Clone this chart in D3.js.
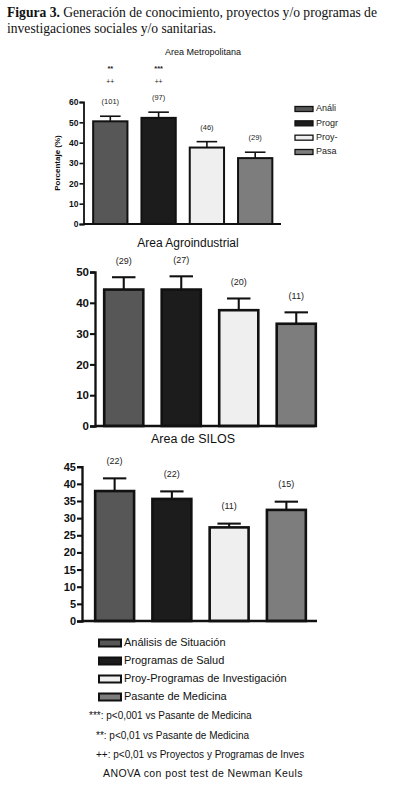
<!DOCTYPE html>
<html><head><meta charset="utf-8">
<script src="https://cdn.jsdelivr.net/npm/d3@7"></script>
<style>
html,body{margin:0;padding:0;background:#fff;}
svg{display:block;}
</style></head>
<body>
<script>
const categories = ["Análisis de Situación","Programas de Salud","Proy-Programas de Investigación","Pasante de Medicina"];
const legendShort = ["Análi","Progr","Proy-","Pasa"];
const barColors = ["#575757","#1c1c1c","#efefef","#7d7d7d"];

const metroValues = [50.5, 52.2, 37.6, 32.4];
const metroSem    = [2.5, 2.8, 2.9, 2.9];
const metroN      = ["(101)","(97)","(46)","(29)"];
const metroStars  = ["**","***","",""];
const metroPlus   = ["++","++","",""];
const metroTicks  = [0,10,20,30,40,50,60];

const agroValues = [44.3, 44.3, 37.6, 33.2];
const agroSem    = [4.0, 4.3, 3.8, 3.7];
const agroN      = ["(29)","(27)","(20)","(11)"];
const agroTicks  = [0,10,20,30,40,50];

const silosValues = [37.9, 35.6, 27.3, 32.4];
const silosSem    = [3.7, 2.2, 1.1, 2.4];
const silosN      = ["(22)","(22)","(11)","(15)"];
const silosTicks  = [0,5,10,15,20,25,30,35,40,45];

const notes = ["***: p<0,001 vs Pasante de Medicina","**: p<0,01 vs Pasante de Medicina","++: p<0,01 vs Proyectos y Programas de Inves","ANOVA con post test de Newman Keuls"];

const W = 395, H = 791;
const svg = d3.select("body").append("svg").attr("width", W).attr("height", H);
const FONT = "Liberation Sans, Arial, sans-serif";

// Header
const hdr = svg.append("text").attr("x", 7).attr("y", 17)
  .attr("font-family", "Liberation Serif, Times New Roman, serif").attr("font-size", 13.6).attr("fill", "#111");
hdr.append("tspan").attr("font-weight", "bold").text("Figura 3.");
hdr.append("tspan").text(" Generación de conocimiento, proyectos y/o programas de");
svg.append("text").attr("x", 7).attr("y", 33)
  .attr("font-family", "Liberation Serif, Times New Roman, serif").attr("font-size", 13.6).attr("fill", "#111")
  .text("investigaciones sociales y/o sanitarias.");

function panel(cfg) {
  const g = svg.append("g");
  const x = d3.scaleBand().domain(categories).range(cfg.xr).paddingInner(cfg.pi).paddingOuter(cfg.po);
  const y = d3.scaleLinear().domain(cfg.domain).range(cfg.yr);
  const data = categories.map((c, i) => ({c, v: cfg.values[i], e: cfg.sem[i], n: cfg.n[i], col: barColors[i], i}));
  const capW = x.bandwidth() * 0.6;
  g.selectAll(".err").data(data).join("line")
    .attr("x1", d => x(d.c) + x.bandwidth()/2).attr("x2", d => x(d.c) + x.bandwidth()/2)
    .attr("y1", d => y(d.v)).attr("y2", d => y(d.v + d.e))
    .attr("stroke", "#111").attr("stroke-width", cfg.sw * 0.8);
  g.selectAll(".cap").data(data).join("line")
    .attr("x1", d => x(d.c) + x.bandwidth()/2 - capW/2).attr("x2", d => x(d.c) + x.bandwidth()/2 + capW/2)
    .attr("y1", d => y(d.v + d.e)).attr("y2", d => y(d.v + d.e))
    .attr("stroke", "#111").attr("stroke-width", cfg.sw * 0.8);
  g.selectAll(".bar").data(data).join("rect")
    .attr("x", d => x(d.c)).attr("width", x.bandwidth())
    .attr("y", d => y(d.v)).attr("height", d => y(0) - y(d.v))
    .attr("fill", d => d.col).attr("stroke", "#111").attr("stroke-width", cfg.sw);
  g.selectAll(".nl").data(data).join("text")
    .attr("x", d => x(d.c) + x.bandwidth()/2).attr("y", d => y(d.v + d.e) - cfg.nOff)
    .attr("text-anchor", "middle").attr("dominant-baseline", "middle")
    .attr("font-family", FONT).attr("font-size", cfg.nFs).attr("fill", "#222").text(d => d.n);
  if (cfg.stars) {
    g.selectAll(".st").data(data).join("text")
      .attr("x", d => x(d.c) + x.bandwidth()/2).attr("y", cfg.starY)
      .attr("text-anchor", "middle").attr("dominant-baseline", "middle").attr("font-weight", "bold")
      .attr("font-family", FONT).attr("font-size", cfg.nFs).attr("fill", "#222").text((d, i) => cfg.stars[i]);
    g.selectAll(".pl").data(data).join("text")
      .attr("x", d => x(d.c) + x.bandwidth()/2).attr("y", cfg.plusY)
      .attr("text-anchor", "middle").attr("dominant-baseline", "middle")
      .attr("font-family", FONT).attr("font-size", cfg.nFs * 0.9).attr("fill", "#222").text((d, i) => cfg.plus[i]);
  }
  const ax = g.append("g").attr("transform", `translate(${cfg.xr[0]},0)`)
    .call(d3.axisLeft(y).tickValues(cfg.ticks).tickSize(cfg.tk).tickPadding(1));
  ax.select(".domain").attr("stroke", "#111").attr("stroke-width", cfg.sw * 0.9);
  ax.selectAll(".tick line").attr("stroke", "#111").attr("stroke-width", cfg.sw * 0.8);
  ax.selectAll(".tick text").attr("font-family", FONT).attr("font-weight", "bold")
    .attr("font-size", cfg.tFs).attr("fill", "#111");
  g.append("line").attr("x1", cfg.xr[0]).attr("x2", cfg.xEnd).attr("y1", y(0)).attr("y2", y(0))
    .attr("stroke", "#111").attr("stroke-width", cfg.sw * 0.9);
  g.append("text").attr("x", cfg.titleX).attr("y", cfg.titleY).attr("text-anchor", "middle")
    .attr("dominant-baseline", "middle").attr("font-family", FONT).attr("font-size", cfg.titleFs)
    .attr("fill", "#111").text(cfg.title);
  return {g, x, y};
}

// Panel 1
panel({values: metroValues, sem: metroSem, n: metroN, domain: [0, 60], ticks: metroTicks,
  xr: [83.5, 282], pi: 0.29, po: 0.2, yr: [224, 102], xEnd: 281, sw: 2, tk: 4, tFs: 8.5, nFs: 7.5, nOff: 14,
  stars: metroStars, plus: metroPlus, starY: 69, plusY: 82,
  title: "Area Metropolitana", titleX: 203, titleY: 53, titleFs: 9});
svg.append("text").attr("transform", "translate(58,163) rotate(-90)").attr("text-anchor", "middle")
  .attr("dominant-baseline", "middle").attr("font-family", FONT).attr("font-weight", "bold")
  .attr("font-size", 8).attr("fill", "#111").text("Porcentaje (%)");

// Panel 1 legend (truncated as in the source)
const lgY1 = d3.scalePoint().domain(categories).range([109, 152]);
const lg1 = svg.append("g");
lg1.selectAll("rect").data(categories).join("rect")
  .attr("x", 295).attr("y", d => lgY1(d) - 2.5).attr("width", 18).attr("height", 5)
  .attr("fill", (d, i) => barColors[i]).attr("stroke", "#111").attr("stroke-width", 1.3);
lg1.selectAll("text").data(categories).join("text")
  .attr("x", 316).attr("y", d => lgY1(d)).attr("dominant-baseline", "middle")
  .attr("font-family", FONT).attr("font-size", 9).attr("fill", "#222").text((d, i) => legendShort[i]);

// Panel 2
panel({values: agroValues, sem: agroSem, n: agroN, domain: [0, 50], ticks: agroTicks,
  xr: [95, 325], pi: 0.32, po: 0.16, yr: [426, 272], xEnd: 315, sw: 2.6, tk: 5, tFs: 11.5, nFs: 9, nOff: 16,
  title: "Area Agroindustrial", titleX: 188, titleY: 244, titleFs: 12});

// Panel 3
panel({values: silosValues, sem: silosSem, n: silosN, domain: [0, 45], ticks: silosTicks,
  xr: [82, 319], pi: 0.32, po: 0.23, yr: [621, 466.7], xEnd: 317, sw: 2.6, tk: 5, tFs: 11, nFs: 9, nOff: 17,
  title: "Area de SILOS", titleX: 193, titleY: 440, titleFs: 12.5});

// Bottom legend
const lgY = d3.scalePoint().domain(categories).range([643, 697]);
const lg = svg.append("g");
lg.selectAll("rect").data(categories).join("rect")
  .attr("x", 99).attr("y", d => lgY(d) - 3.5).attr("width", 22).attr("height", 7)
  .attr("fill", (d, i) => barColors[i]).attr("stroke", "#111").attr("stroke-width", 2);
lg.selectAll("text").data(categories).join("text")
  .attr("x", 124).attr("y", d => lgY(d)).attr("dominant-baseline", "middle")
  .attr("font-family", FONT).attr("font-size", 11).attr("fill", "#111").text(d => d);

const ng = svg.append("g");
const noteX = [89, 96, 96, 103], noteY = [716, 736, 755, 774], noteFs = [10, 10, 10, 10.5];
ng.selectAll("text").data(notes).join("text")
  .attr("x", (d, i) => noteX[i]).attr("y", (d, i) => noteY[i]).attr("dominant-baseline", "middle")
  .attr("font-family", FONT).attr("font-size", (d, i) => noteFs[i])
  .attr("letter-spacing", (d, i) => i === 3 ? 0.4 : 0)
  .attr("fill", "#111").text(d => d);
</script>
</body></html>
